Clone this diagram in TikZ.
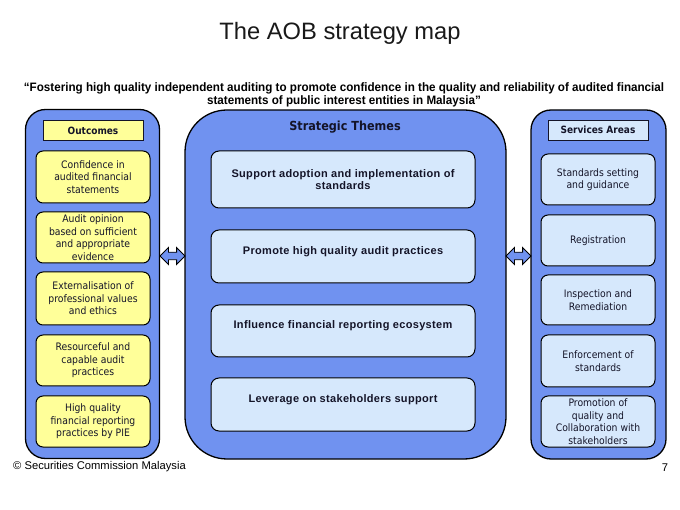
\documentclass[tikz,border=0pt]{standalone}
\usepackage{fontspec}
\usetikzlibrary{shapes.arrows}
\setmainfont{Liberation Sans}
\newfontfamily\boxfont{DejaVu Sans Condensed}
\newfontfamily\quotefont[FakeStretch=0.955]{Liberation Sans}
\newfontfamily\themefont[LetterSpace=3]{Liberation Sans}
\definecolor{outerblue}{RGB}{112,146,240}
\definecolor{lightblue}{RGB}{214,232,252}
\definecolor{paleyellow}{RGB}{255,255,153}
\definecolor{ink}{RGB}{20,20,40}
\tikzset{
  outerbox/.style={draw=black, line width=1.3pt, fill=outerblue, inner sep=0pt},
  headbox/.style={draw=ink, line width=0.7pt, minimum width=100pt, minimum height=20pt, inner sep=0pt,
    font=\boxfont\bfseries\fontsize{10}{12}\selectfont, text=ink},
  ybox/.style={draw=black, line width=1pt, fill=paleyellow, rounded corners=7pt, minimum width=114pt,
    inner sep=0pt, align=center, text=ink, font=\boxfont\fontsize{10.3}{12.6}\selectfont},
  sbox/.style={ybox, fill=lightblue},
  tbox/.style={draw=black, line width=1pt, fill=lightblue, rounded corners=8pt, minimum width=264pt,
    inner sep=0pt, align=center, text=ink, font=\themefont\bfseries\fontsize{11}{12.5}\selectfont},
  dblarrow/.style={double arrow, draw=black, line width=0.9pt, fill=outerblue, inner xsep=0pt, inner ysep=3.3pt,
    double arrow head extend=4.7pt, minimum height=25pt}
}
\begin{document}
\begin{tikzpicture}[x=1pt,y=-1pt]
\path[use as bounding box, fill=white] (0,0) rectangle (680,510);

\node[font=\fontsize{23.7}{28}\selectfont, text=black!90] (title) at (340,33) {The AOB strategy map};
\node[align=center, font=\quotefont\bfseries\fontsize{12.2}{12.5}\selectfont] (quote) at (344,95)
  {“Fostering high quality independent auditing to promote confidence in the quality and reliability of audited financial\\
   statements of public interest entities in Malaysia”};

% outer panels
\node[outerbox, rounded corners=20pt, minimum width=134pt, minimum height=349pt] (lout) at (92.5,284) {};
\node[outerbox, rounded corners=42pt, minimum width=321pt, minimum height=349pt] (cout) at (345.5,284.5) {};
\node[outerbox, rounded corners=20pt, minimum width=135pt, minimum height=349pt] (rout) at (598.5,284.5) {};

% headers
\node[headbox, fill=paleyellow] (outh) at (93,130.5) {Outcomes};
\node[headbox, fill=lightblue] (serh) at (598,130) {Services Areas};
\node[font=\boxfont\bfseries\fontsize{12.5}{14}\selectfont, text=ink] (stath) at (345,127) {Strategic Themes};

% outcomes
\node[ybox, minimum height=52pt] (o1) at (93,177) {Confidence in\\audited financial\\statements};
\node[ybox, minimum height=51pt] (o2) at (93,237.5) {Audit opinion\\based on sufficient\\and appropriate\\evidence};
\node[ybox, minimum height=53pt] (o3) at (93,298.5) {Externalisation of\\professional values\\and ethics};
\node[ybox, minimum height=51pt] (o4) at (93,360.5) {Resourceful and\\capable audit\\practices};
\node[ybox, minimum height=51pt] (o5) at (93,421.5) {High quality\\financial reporting\\practices by PIE};

% themes
\node[tbox, minimum height=57pt] (t1) at (343,179.5) {Support adoption and implementation of\\standards};
\node[tbox, minimum height=53pt] (t2) at (343,256.5) {Promote high quality audit practices\\\mbox{}};
\node[tbox, minimum height=52pt] (t3) at (343,331) {Influence financial reporting ecosystem\\\mbox{}};
\node[tbox, minimum height=53pt] (t4) at (343,404.5) {Leverage on stakeholders support\\\mbox{}};

% services
\node[sbox, minimum height=51pt] (s1) at (598,179.5) {Standards setting\\and guidance};
\node[sbox, minimum height=51pt] (s2) at (598,240.5) {Registration};
\node[sbox, minimum height=50pt] (s3) at (598,300) {Inspection and\\Remediation};
\node[sbox, minimum height=52pt] (s4) at (598,361) {Enforcement of\\standards};
\node[sbox, minimum height=51pt] (s5) at (598,421.5) {Promotion of\\quality and\\Collaboration with\\stakeholders};

% double arrows
\node[dblarrow] (al) at (172.5,256) {};
\node[dblarrow] (ar) at (518.5,256) {};

% footer
\node[anchor=west, font=\fontsize{11.2}{13}\selectfont, inner sep=0pt] (foot) at (13,467) {© Securities Commission Malaysia};
\node[font=\fontsize{11.2}{13}\selectfont, inner sep=0pt] (pg) at (665,468) {7};
\end{tikzpicture}
\end{document}
